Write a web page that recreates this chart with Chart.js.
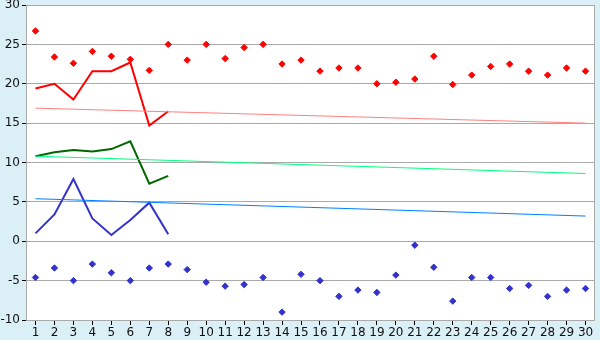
<!DOCTYPE html>
<html>
<head>
<meta charset="utf-8">
<script src="https://cdn.jsdelivr.net/npm/chart.js@4"></script>
<style>
  html, body { margin: 0; padding: 0; background: #daeff6; }
  #graph { display: block; }
</style>
</head>
<body>
<canvas id="graph" width="600" height="340"></canvas>
<script>
// 日付ラベル
var DAYS = ["1","2","3","4","5","6","7","8","9","10","11","12","13","14","15",
            "16","17","18","19","20","21","22","23","24","25","26","27","28","29","30"];

// 点（赤：高い値 / 青：低い値）
var HIGH_POINTS = [26.7, 23.4, 22.6, 24.1, 23.5, 23.1, 21.7, 25.0, 23.0, 25.0,
                   23.2, 24.6, 25.0, 22.5, 23.0, 21.6, 22.0, 22.0, 20.0, 20.2,
                   20.6, 23.5, 19.9, 21.1, 22.2, 22.5, 21.6, 21.1, 22.0, 21.6];
var LOW_POINTS  = [-4.6, -3.4, -5.0, -2.9, -4.0, -5.0, -3.4, -2.9, -3.6, -5.2,
                   -5.7, -5.5, -4.6, -9.0, -4.2, -5.0, -7.0, -6.2, -6.5, -4.3,
                   -0.5, -3.3, -7.6, -4.6, -4.6, -6.0, -5.6, -7.0, -6.2, -6.0];

// 折れ線（1〜8日のみ）
var HIGH_LINE = [19.4, 20.0, 18.0, 21.6, 21.6, 22.7, 14.7, 16.5];
var MID_LINE  = [10.8, 11.3, 11.6, 11.4, 11.7, 12.7, 7.3, 8.3];
var LOW_LINE  = [1.0, 3.4, 7.9, 2.9, 0.8, 2.7, 4.9, 0.9];

// 傾向線（始点と終点）
var HIGH_TREND = [16.9, 15.0];
var MID_TREND  = [10.8, 8.6];
var LOW_TREND  = [5.4, 3.2];

var CHART = null;

function pad_line(vals){
    let out = [];
    for (let i=0;i<DAYS.length;i++){
        out.push(i < vals.length ? vals[i] : null);
    }
    return out;
}

function trend(ends){
    let out = [];
    for (let i=0;i<DAYS.length;i++){ out.push(null); }
    out[0] = ends[0];
    out[DAYS.length - 1] = ends[1];
    return out;
}

function line_set(vals, color, width){
    return {
        data: vals,
        borderColor: color,
        backgroundColor: color,
        borderWidth: width,
        pointRadius: 0,
        tension: 0,
        spanGaps: true,
        fill: false
    };
}

function point_set(vals, color){
    return {
        data: vals,
        showLine: false,
        borderColor: color,
        backgroundColor: color,
        pointStyle: "rectRot",
        pointRadius: 3.2,
        borderWidth: 1
    };
}

//チャートエリアの背景と枠線
var areaPlugin = {
    id: "area",
    beforeDraw: function(chart){
        let a = chart.chartArea;
        let c = chart.ctx;
        c.save();
        c.fillStyle = "#ffffff";
        c.fillRect(a.left, a.top, a.right - a.left, a.bottom - a.top);
        c.restore();
    },
    afterDatasetsDraw: function(chart){
        let a = chart.chartArea;
        let c = chart.ctx;
        c.save();
        c.strokeStyle = "#aaaaaa";
        c.lineWidth = 1;
        c.beginPath();
        c.moveTo(a.left + 0.5, a.top + 0.5);
        c.lineTo(a.right - 0.5, a.top + 0.5);
        c.lineTo(a.right - 0.5, a.bottom);
        c.stroke();
        c.restore();
    }
};

window.addEventListener("load", function(){

    let ctx = document.getElementById("graph");

    let data = {
        labels: DAYS,
        datasets: [
            line_set(trend(HIGH_TREND), "#ff8080", 1),
            line_set(trend(MID_TREND), "#00ff80", 1),
            line_set(trend(LOW_TREND), "#0080ff", 1),
            line_set(pad_line(HIGH_LINE), "#ff0000", 2),
            line_set(pad_line(MID_LINE), "#006600", 2),
            line_set(pad_line(LOW_LINE), "#3333cc", 2),
            point_set(HIGH_POINTS, "#ff0000"),
            point_set(LOW_POINTS, "#3333cc")
        ]
    };

    let options = {
        responsive: false,
        devicePixelRatio: 1,
        animation: false,
        layout: { padding: { top: 5, right: 4, left: 0, bottom: 0 } },
        plugins: {
            legend: { display: false },
            tooltip: { enabled: false }
        },
        scales: {
            x: {
                type: "category",
                offset: true,
                grid: {
                    display: true,
                    offset: false,
                    drawOnChartArea: false,
                    drawTicks: true,
                    tickLength: 5,
                    tickColor: "#000000"
                },
                border: { display: false },
                ticks: {
                    color: "#111111",
                    font: { family: "DejaVu Sans", size: 12 },
                    padding: 1,
                    maxRotation: 0,
                    autoSkip: false
                },
                afterFit: function(s){
                    s.height = 20;
                    s.paddingLeft = 0;
                    s.paddingRight = 0;
                }
            },
            y: {
                min: -10,
                max: 30,
                ticks: {
                    stepSize: 5,
                    color: "#111111",
                    font: { family: "DejaVu Sans", size: 12 },
                    padding: 2
                },
                grid: {
                    color: "#aaaaaa",
                    tickColor: "#000000",
                    tickLength: 4
                },
                border: { color: "#aaaaaa" },
                afterFit: function(s){
                    s.width = 26;
                    s.paddingTop = 0;
                    s.paddingBottom = 0;
                }
            }
        }
    };

    CHART = new Chart(ctx, {
        type: "line",
        data: data,
        options: options,
        plugins: [areaPlugin]
    });
});
</script>
</body>
</html>
